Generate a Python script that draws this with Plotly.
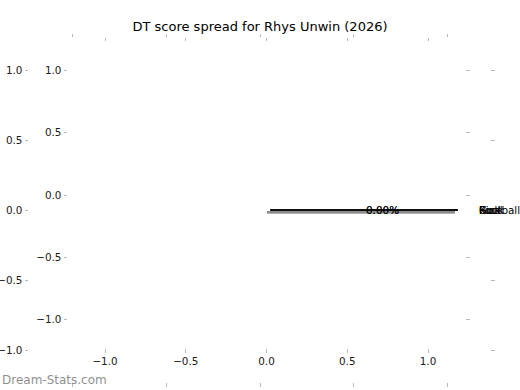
import math
import plotly.graph_objects as go

# ---- data ----
title_text = "DT score spread for Rhys Unwin (2026)"
categories = ["Kick", "Goal", "Ruck", "Football"]
values = [0, 0, 0, 0]
tick_vals = [-1.0, -0.5, 0.0, 0.5, 1.0]
tick_text = ["\u22121.0", "\u22120.5", "0.0", "0.5", "1.0"]
watermark = "Dream-Stats.com"

W, H = 520, 390
FONT = "DejaVu Sans"
TICKC = "#b8b8b8"
TXT = "#1a1a1a"

def px_x(a, b):
    return [a / W, b / W]

def px_y(top, bottom):
    return [1 - bottom / H, 1 - top / H]

fig = go.Figure()

# pie geometry (degenerate wedges as all values are zero)
explode = 0.055
radius = 1.0
pctdistance = 0.6
labeldistance = 1.1
shadow_dx, shadow_dy = -0.016, -0.016
total = sum(values)
theta = 0.0
wedges = []
for cat, v in zip(categories, values):
    frac = v / total if total else 0.0
    t1 = theta
    t2 = theta + 360 * frac
    mid = math.radians((t1 + t2) / 2)
    cx = explode * math.cos(mid)
    cy = explode * math.sin(mid)
    wedges.append((cat, frac, t1, t2, mid, cx, cy))
    theta = t2

# shadows first
for cat, frac, t1, t2, mid, cx, cy in wedges:
    xs = [cx + shadow_dx, cx + shadow_dx + radius * math.cos(math.radians(t1))]
    ys = [cy + shadow_dy, cy + shadow_dy + radius * math.sin(math.radians(t1))]
    fig.add_trace(go.Scatter(x=xs, y=ys, mode="lines", xaxis="x", yaxis="y",
                             line=dict(color="#8c8c8c", width=2),
                             hoverinfo="skip", showlegend=False))
for cat, frac, t1, t2, mid, cx, cy in wedges:
    xs = [cx, cx + radius * math.cos(math.radians(t1))]
    ys = [cy, cy + radius * math.sin(math.radians(t1))]
    fig.add_trace(go.Scatter(x=xs, y=ys, mode="lines", xaxis="x", yaxis="y",
                             line=dict(color="black", width=1),
                             hoverinfo="skip", showlegend=False))

annotations = []
for cat, frac, t1, t2, mid, cx, cy in wedges:
    annotations.append(dict(
        x=cx + pctdistance * radius * math.cos(mid),
        y=cy + pctdistance * radius * math.sin(mid),
        xref="x", yref="y", text=f"{100 * frac:.2f}%", showarrow=False,
        xanchor="center", yanchor="middle",
        font=dict(family=FONT, size=10.4, color="rgba(0,0,0,0.55)")))
    annotations.append(dict(
        x=cx + labeldistance * radius * math.cos(mid),
        y=cy + labeldistance * radius * math.sin(mid),
        xref="x", yref="y", text=cat, showarrow=False,
        xanchor="left", yanchor="middle",
        font=dict(family=FONT, size=10.4, color="black")))

annotations.append(dict(
    x=0, y=1 - 380 / H, xref="paper", yref="paper", text=watermark,
    showarrow=False, xanchor="left", yanchor="middle",
    font=dict(family=FONT, size=12, color="rgba(120,120,120,0.85)")))

# dummy trace for second (inner) axes
fig.add_trace(go.Scatter(x=[None], y=[None], xaxis="x2", yaxis="y2",
                         mode="markers", hoverinfo="skip", showlegend=False))

axis_common = dict(
    tickvals=tick_vals, ticktext=tick_text, ticks="outside", ticklen=3.5,
    tickwidth=1, tickcolor=TICKC, showgrid=False, zeroline=False,
    showline=False, mirror="ticks", automargin=False,
    tickfont=dict(family=FONT, size=10.4, color=TXT),
)

ax_cx, ax_scale = 260.0, 187.5
ay_cy, ay_scale = 210.0, 140.0
bx_cx, bx_scale = 266.5, 161.5
by_cy, by_scale = 195.0, 124.5

fig.update_layout(
    width=W, height=H,
    margin=dict(l=0, r=0, t=0, b=0, autoexpand=False),
    paper_bgcolor="white", plot_bgcolor="rgba(0,0,0,0)",
    title=dict(text=title_text, x=0.5, xanchor="center", y=1 - 26 / H,
               yanchor="middle", font=dict(family=FONT, size=13, color="black"),
               automargin=False),
    xaxis=dict(axis_common, domain=px_x(29, 490), anchor="y",
               range=[(29 - ax_cx) / ax_scale, (490 - ax_cx) / ax_scale]),
    yaxis=dict(axis_common, domain=px_y(38, 382), anchor="x",
               range=[-(382 - ay_cy) / ay_scale, (ay_cy - 38) / ay_scale]),
    xaxis2=dict(axis_common, domain=px_x(68, 465), anchor="y2",
                range=[(68 - bx_cx) / bx_scale, (465 - bx_cx) / bx_scale]),
    yaxis2=dict(axis_common, domain=px_y(42, 348), anchor="x2",
                range=[-(348 - by_cy) / by_scale, (by_cy - 42) / by_scale]),
    annotations=annotations,
    showlegend=False,
)

fig.write_html("out.html", config={"displayModeBar": False, "staticPlot": True},
               post_script="document.body.style.margin='0';")
